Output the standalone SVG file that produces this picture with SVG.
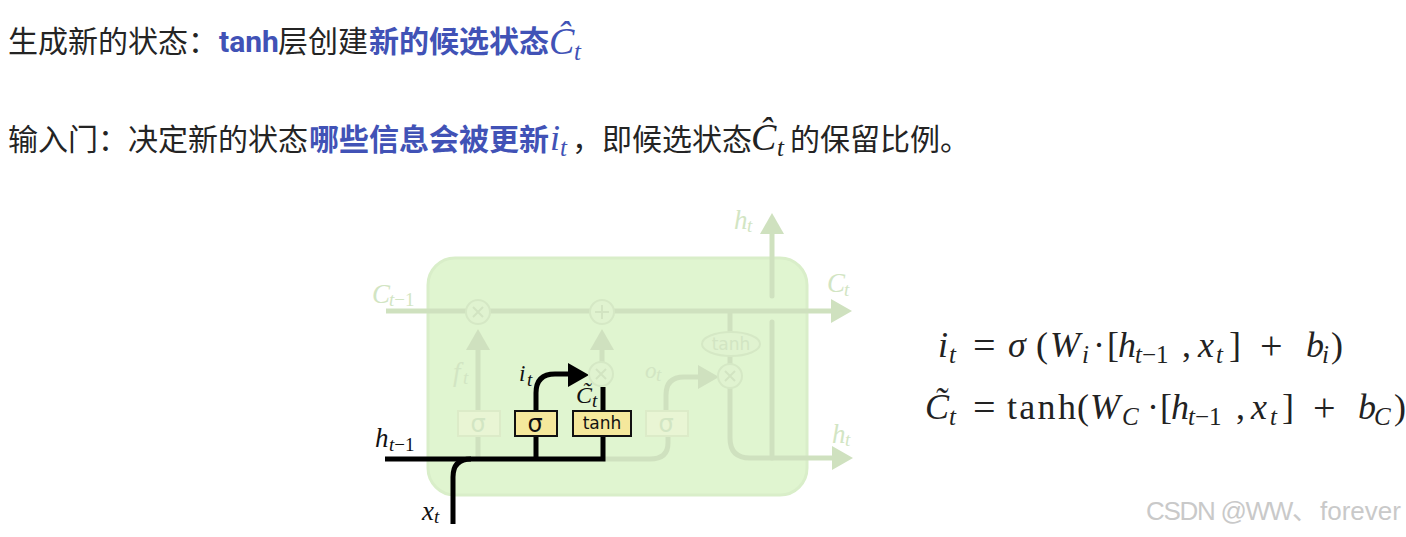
<svg xmlns="http://www.w3.org/2000/svg" width="1406" height="537" viewBox="0 0 1406 537">
<style>
.cn{font-family:"Noto Sans CJK SC","Noto Sans",sans-serif;font-size:30px;fill:#242424}
.b{font-weight:700;fill:#4152b6}
.tb{font-family:Roboto,"Liberation Sans",sans-serif;font-size:30px;font-weight:700;fill:#4152b6}
.m{font-family:"Liberation Serif",serif;font-size:36px;fill:#222}
.op2{font-size:40px}
.i{font-style:italic}
.n{font-style:normal}
.s{font-size:25px}
.blue{fill:#4152b6}
.d{font-family:"Liberation Serif",serif;font-style:italic;font-size:27px}
.ds{font-size:19px}
.pt{fill:#d2e5c3}
.k{fill:#111}
.sans{font-family:"DejaVu Sans",sans-serif;text-anchor:middle}
.pale{fill:none;stroke:#cfe1bf;stroke-width:5}
.blk{fill:none;stroke:#000;stroke-width:5}
.hp{fill:#cfe1bf}
.hk{fill:#000}
.op{fill:#e0f3d0;stroke:#d5e8c5;stroke-width:2}
.ops{fill:none;stroke:#d2e4c2;stroke-width:2}
.fb{fill:#e9f5d4;stroke:#dcebc8;stroke-width:2}
.yb{fill:#f5e89c;stroke:#111;stroke-width:2}
</style>

<g id="text-line-1">
<text class="cn" x="8" y="52">生成新的状态：</text>
<text class="tb" x="219" y="52">tanh</text>
<text class="cn" x="278" y="52">层创建</text>
<text class="cn b" x="369" y="52">新的候选状态</text>
<text class="m i blue" x="549" y="54" style="font-size:38px">Ĉ<tspan class="s" x="574" y="60">t</tspan></text>
</g>
<g id="text-line-2">
<text class="cn" x="8" y="150">输入门：决定新的状态</text>
<text class="cn b" x="309" y="150">哪些信息会被更新</text>
<text class="m i blue" x="550" y="150">i<tspan class="s" x="560" y="156">t</tspan></text>
<text class="cn" x="572" y="150">，即候选状态</text>
<text class="m i" x="751" y="150" style="font-size:38px">Ĉ<tspan class="s" x="777" y="156">t</tspan></text>
<text class="cn" x="790" y="150">的保留比例。</text>
</g>

<g id="cell"><rect x="428" y="258" width="379" height="237" rx="27" fill="#e0f5d0" stroke="#d9eec9" stroke-width="3"/></g>

<g id="connectors">
<path class="pale" d="M386 311H832"/>
<path class="pale" d="M478 459V349"/>
<path class="pale" d="M602 362V349"/>
<path class="pale" d="M603 459H650Q668 459 668 443V436M666 410V395Q666 377 684 377H699"/>
<path class="pale" d="M730 311V332M730 356V364M730 388V438Q730 458 750 458H833"/>
<path class="pale" d="M772 458V322M772 296V233" stroke-linecap="round"/>
<path class="hp" d="M831 299L852 311L831 323Z"/>
<path class="hp" d="M832 446L853 458L832 470Z"/>
<path class="hp" d="M760 234L772 213L784 234Z"/>
<path class="hp" d="M466 350L478 329L490 350Z"/>
<path class="hp" d="M590 350L602 329L614 350Z"/>
<path class="hp" d="M698 365L719 377L698 389Z"/>
<path class="blk" d="M385 459H603V387"/>
<path class="blk" d="M453 524V477Q453 459 471 459"/>
<path class="blk" d="M536 459V436M536 410V393Q536 374 555 374H569"/>
<path class="hk" d="M568 363L589 375L568 387Z"/>
</g>

<g id="node-forget-mult"><circle class="op" cx="478" cy="312" r="12"/><path class="ops" d="M473 307L483 317M483 307L473 317"/></g>
<g id="node-add"><circle class="op" cx="602" cy="312" r="12"/><path class="ops" d="M602 305V319M595 312H609"/></g>
<g id="node-input-mult"><circle class="op" cx="601" cy="374" r="12"/><path class="ops" d="M596 369L606 379M606 369L596 379"/></g>
<g id="node-output-mult"><circle class="op" cx="730" cy="376" r="12"/><path class="ops" d="M725 371L735 381M735 371L725 381"/></g>
<g id="node-output-tanh"><ellipse class="op" cx="731" cy="344" rx="29" ry="12"/><text class="sans pt" x="731" y="350" font-size="17">tanh</text></g>
<g id="node-forget-sigma"><rect class="fb" x="458" y="411" width="42" height="25"/><text class="sans pt" x="478" y="432" font-size="24">σ</text></g>
<g id="node-input-sigma"><rect class="yb" x="515" y="411" width="42" height="25"/><text class="sans k" x="535" y="432" font-size="24">σ</text></g>
<g id="node-input-tanh"><rect class="yb" x="573" y="411" width="58" height="25"/><text class="sans k" x="602" y="429" font-size="17">tanh</text></g>
<g id="node-output-sigma"><rect class="fb" x="646" y="411" width="42" height="25"/><text class="sans pt" x="666" y="432" font-size="24">σ</text></g>

<g id="labels">
<text class="d pt" x="372" y="303">C<tspan class="ds" x="389" y="306">t<tspan class="n">−1</tspan></tspan></text>
<text class="d k" x="375" y="447">h<tspan class="ds" x="389" y="451">t<tspan class="n">−1</tspan></tspan></text>
<text class="d k" x="422" y="520">x<tspan class="ds" x="434" y="523">t</tspan></text>
<text class="d pt" x="453" y="381">f<tspan class="ds" x="463" y="384">t</tspan></text>
<text class="d k" x="519" y="381" style="font-size:23px">i<tspan class="ds" x="527" y="386">t</tspan></text>
<text class="d k" x="576" y="403" style="font-size:24px">C̃<tspan class="ds" x="592" y="407">t</tspan></text>
<text class="d pt" x="645" y="378" style="font-size:23px">o<tspan class="ds" x="656" y="381">t</tspan></text>
<text class="d pt" x="734" y="229">h<tspan class="ds" x="747" y="232">t</tspan></text>
<text class="d pt" x="827" y="292">C<tspan class="ds" x="844" y="296">t</tspan></text>
<text class="d pt" x="832" y="443">h<tspan class="ds" x="845" y="446">t</tspan></text>
</g>

<g id="equation-1">
<text class="m i" x="938" y="357">i<tspan class="s" x="949" y="363">t</tspan></text>
<text class="m op2" x="973" y="359">=</text>
<text class="m i" x="1008" y="357">σ</text>
<text class="m" x="1036" y="357">(</text>
<text class="m i" x="1050" y="357">W<tspan class="s" x="1082" y="363">i</tspan></text>
<text class="m" x="1093" y="357">·</text>
<text class="m" x="1107" y="357">[<tspan class="i" x="1118">h</tspan><tspan class="i s" x="1135" y="363">t<tspan class="n">−1</tspan></tspan></text>
<text class="m" x="1182" y="357">,</text>
<text class="m i" x="1198" y="357">x<tspan class="s" x="1216" y="363">t</tspan></text>
<text class="m" x="1229" y="357">]</text>
<text class="m op2" x="1260" y="359">+</text>
<text class="m i" x="1306" y="357">b<tspan class="s" x="1322" y="363">i</tspan></text>
<text class="m" x="1331" y="357">)</text>
</g>
<g id="equation-2">
<text class="m i" x="925" y="419">C̃<tspan class="s" x="949" y="425">t</tspan></text>
<text class="m op2" x="973" y="421">=</text>
<text class="m" x="1007" y="419" letter-spacing="2.3">tanh</text>
<text class="m" x="1077" y="419">(</text>
<text class="m i" x="1090" y="419">W<tspan class="s" x="1122" y="425">C</tspan></text>
<text class="m" x="1147" y="419">·</text>
<text class="m" x="1160" y="419">[<tspan class="i" x="1171">h</tspan><tspan class="i s" x="1188" y="425">t<tspan class="n">−1</tspan></tspan></text>
<text class="m" x="1236" y="419">,</text>
<text class="m i" x="1251" y="419">x<tspan class="s" x="1270" y="425">t</tspan></text>
<text class="m" x="1282" y="419">]</text>
<text class="m op2" x="1313" y="421">+</text>
<text class="m i" x="1358" y="419">b<tspan class="s" x="1374" y="425">C</tspan></text>
<text class="m" x="1394" y="419">)</text>
</g>

<g id="watermark"><text x="1146" y="520" font-family="'Liberation Sans','Noto Sans CJK SC',sans-serif" font-size="26" fill="#c9c9c9" letter-spacing="-1.3">CSDN @WW、<tspan x="1320" letter-spacing="0">forever</tspan></text></g>
</svg>
